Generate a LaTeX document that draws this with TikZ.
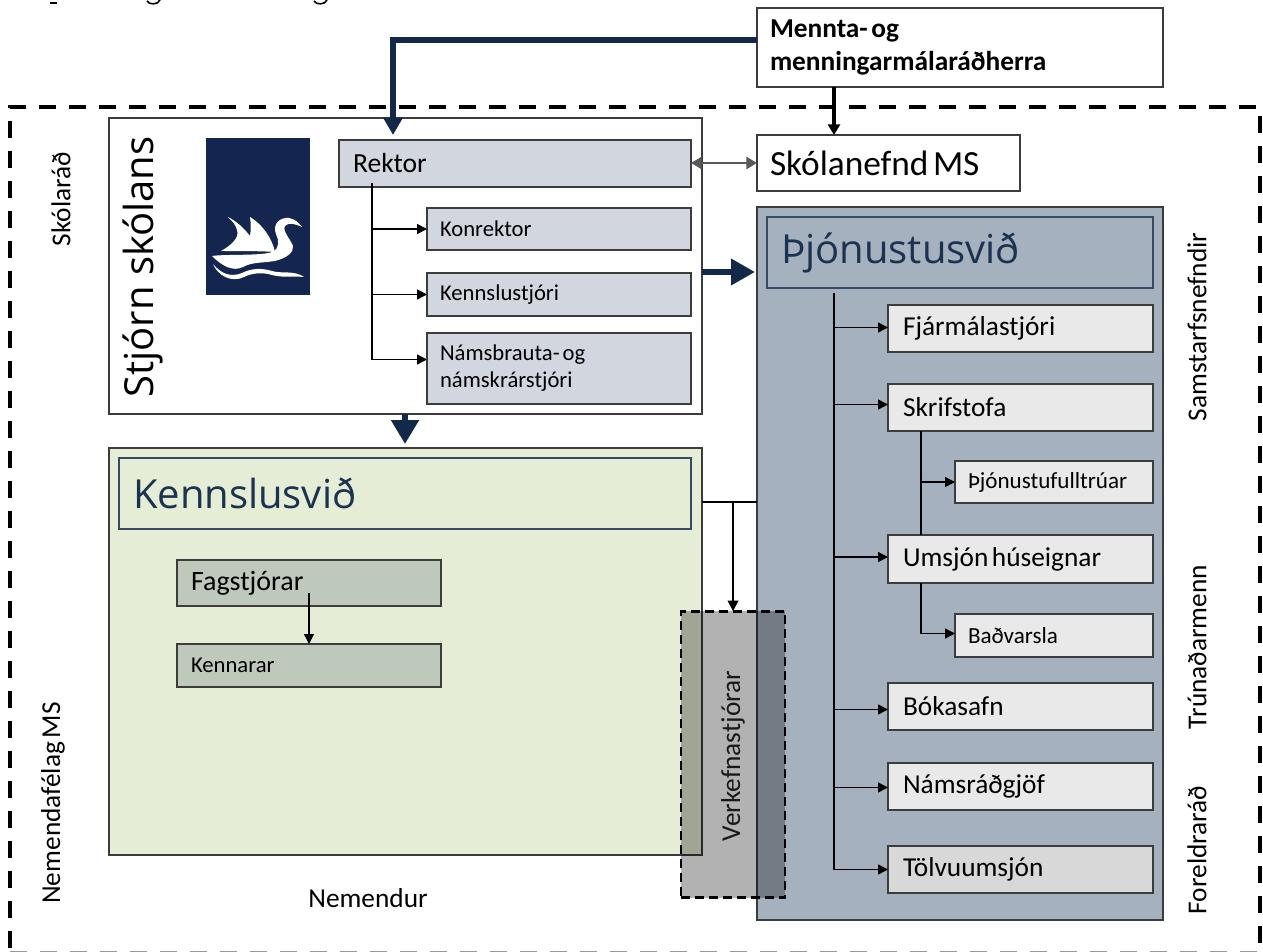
\documentclass[tikz,border=0pt]{standalone}
\usepackage{fontspec}
\setmainfont{Open Sans}
\newfontfamily\calf{Carlito}
\usetikzlibrary{arrows.meta,calc}
\definecolor{navy}{HTML}{12294A}
\definecolor{logoblue}{HTML}{14254F}
\definecolor{edge}{HTML}{3C3C3C}
\definecolor{svcblue}{HTML}{A5B1BE}
\definecolor{headtxt}{HTML}{1C3350}
\definecolor{lightbox}{HTML}{E9E9E9}
\definecolor{darkbox}{HTML}{D8D8D8}
\definecolor{mgmt}{HTML}{D2D7DF}
\definecolor{teach}{HTML}{E6EDD7}
\definecolor{subject}{HTML}{BEC9BC}
\newcommand\bx[8]{%
  \pgfmathsetmacro\cxx{(#2+#4)/2}%
  \pgfmathsetmacro\cyy{(#3+#5)/2}%
  \pgfmathsetmacro\ww{(#4-#2)*0.75}%
  \pgfmathsetmacro\hh{(#5-#3)*0.75}%
  \pgfmathsetmacro\pp{#7*0.75}%
  \pgfmathsetmacro\tw{\ww-2*\pp}%
  \node[boxbase,#6,minimum height=\hh pt,text width=\tw pt,inner xsep=\pp pt] (#1) at (\cxx,\cyy) {#8};}
\newcommand\branch[3]{% trunk, node, dy
  \coordinate (tmpe) at ($(#2.west)+(0,#3)$);
  \draw[thinarrow] (#1 |- tmpe) -- (tmpe);}
\newcommand\nsp{\hspace{0.13em}}
\tikzset{
  boxbase/.style={draw=edge,line width=1.1pt,inner ysep=0pt,outer sep=0pt,align=left,anchor=center},
  plainbox/.style={fill=white},
  svcbox/.style={fill=lightbox,font=\fontsize{20.5}{24}\selectfont\calf},
  svcsmall/.style={fill=lightbox,font=\fontsize{17.3}{20}\selectfont\calf},
  svcdark/.style={fill=darkbox,font=\fontsize{20.5}{24}\selectfont\calf},
  mgmtbox/.style={fill=mgmt,font=\fontsize{17}{20}\selectfont\calf},
  subjbox/.style={fill=subject},
  headbox/.style={draw=navy!85,line width=.8pt,text=headtxt,font=\fontsize{30}{34}\selectfont},
  thinarrow/.style={line width=1.1pt,draw=black,-{Triangle[length=7.5pt,width=7.5pt]}},
  thinline/.style={line width=1.1pt,draw=black},
  sidelabel/.style={rotate=90,inner sep=0pt,font=\fontsize{20.5}{24}\selectfont\calf},
}
\begin{document}
\begin{tikzpicture}[x=0.75pt,y=-0.75pt]
\useasboundingbox (0,0) rectangle (1263,952);
\fill[white] (0,0) rectangle (1263,952);
% cropped line of text at the top edge
\draw[line width=1pt] (50,3) -- (57,3);
\draw[line width=1.2pt] (147,1) .. controls (149,5) and (158,5) .. (160,0);
\draw[line width=1.2pt] (314,1) .. controls (316,5) and (325,5) .. (327,0);
% outer dashed frame
\node[draw=black,line width=3.4pt,dash pattern=on 13pt off 9.5pt,minimum width=937.5pt,minimum height=634.5pt,outer sep=0pt,inner sep=0pt] (frame) at (635,530) {};
\fill[white,opacity=.6] (0,950) rectangle (1263,952);
% main blocks
\bx{mrh}{757}{8}{1163}{87}{plainbox,font=\fontsize{20.5}{24.7}\selectfont\calf\bfseries}{13}{\raisebox{-1pt}{Mennta-\nsp og}\\\raisebox{-1.5pt}{menningarmálaráðherra}}
\bx{nefnd}{757}{135}{1020}{191}{plainbox,font=\fontsize{26.5}{30}\selectfont\calf}{13}{Skólanefnd\nsp MS}
\bx{svc}{757}{207}{1163}{920}{fill=svcblue}{10}{}
\bx{svchead}{767}{217}{1153}{288}{headbox}{14}{\raisebox{-3pt}{Þjónustusvið}}
\bx{stj}{109}{118}{702}{414}{plainbox}{10}{}
\bx{rektor}{339}{140}{691}{187}{mgmtbox,font=\fontsize{20.7}{24}\selectfont\calf}{14}{Rektor}
\bx{kon}{427}{208}{691}{250}{mgmtbox}{13}{Konrektor}
\bx{kst}{427}{273}{691}{316}{mgmtbox}{13}{Kennslustjóri}
\bx{nam}{427}{333}{691}{404}{mgmtbox,font=\fontsize{17}{20.2}\selectfont\calf}{13}{\raisebox{-1pt}{Námsbrauta-\nsp og}\\\raisebox{-1pt}{námskrárstjóri}}
\bx{ken}{109}{448}{702}{855}{fill=teach}{10}{}
\bx{kenhead}{119}{458}{691}{529}{fill=teach,headbox}{14}{Kennslusvið}
\bx{fag}{177}{560}{441}{606}{subjbox,font=\fontsize{21}{24}\selectfont\calf}{14}{Fagstjórar}
\bx{kenn}{177}{644}{441}{687}{subjbox,font=\fontsize{17}{20}\selectfont\calf}{14}{Kennarar}
\bx{fjar}{888}{305}{1153}{352}{svcbox}{15}{Fjármálastjóri}
\bx{skr}{888}{384}{1153}{431}{svcbox}{15}{Skrifstofa}
\bx{ful}{955}{461}{1153}{503}{svcsmall}{13}{Þjónustufulltrúar}
\bx{ums}{888}{535}{1153}{583}{svcbox}{15}{Umsjón\nsp húseignar}
\bx{bad}{955}{614}{1153}{657}{svcsmall}{13}{Baðvarsla}
\bx{bok}{888}{683}{1153}{730}{svcbox}{15}{Bókasafn}
\bx{rad}{888}{763}{1153}{810}{svcbox}{15}{Námsráðgjöf}
\bx{tol}{888}{846}{1153}{893}{svcdark}{15}{Tölvuumsjón}
% logo
\node[fill=logoblue,draw=none,minimum width=78pt,minimum height=117.75pt,inner sep=0pt,outer sep=0pt] (logo) at (258,216.5) {};
\fill[white] (228,217) .. controls (236,221) and (244,228) .. (250,236) .. controls (251,230) and (251,223) .. (250,217) .. controls (262,224) and (272,238) .. (275,252) .. controls (262,251) and (240,251) .. (221,251) .. controls (230,246) and (240,238) .. (237,230) .. controls (236,225) and (232,221) .. (228,217) -- cycle;
\fill[white] (212,256) .. controls (225,254) and (262,256) .. (272,252) .. controls (280,249) and (279,240) .. (276,234) .. controls (272,224) and (280,217) .. (289,218) .. controls (295,219) and (299,223) .. (302,227) .. controls (296,224) and (288,222) .. (285,226) .. controls (282,231) and (291,240) .. (293,246) .. controls (294,252) and (287,258) .. (275,261) .. controls (262,263) and (252,262) .. (243,267) .. controls (233,272) and (222,266) .. (212,256) -- cycle;
\fill[white] (213,264) .. controls (222,275) and (232,277) .. (242,273) .. controls (252,268) and (262,268) .. (272,271) .. controls (282,274) and (294,270) .. (304,277) .. controls (294,276) and (284,278) .. (272,275) .. controls (262,272) and (252,273) .. (244,277) .. controls (232,283) and (218,276) .. (213,264) -- cycle;
% rotated and free labels
\node[rotate=90,inner sep=0pt,font=\fontsize{30}{34}\selectfont] (stjt) at (143,267) {Stjórn skólans};
\node[sidelabel] (skl) at (61,199) {Skólaráð};
\node[sidelabel] (nem) at (53,803) {Nemendafélag\nsp MS};
\node[inner sep=0pt,font=\fontsize{20.5}{24}\selectfont\calf] (nmd) at (368,898) {Nemendur};
\node[sidelabel] (sam) at (1197,327) {Samstarfsnefndir};
\node[sidelabel] (tru) at (1197,647) {Trúnaðarmenn};
\node[sidelabel] (for) at (1197,850) {Foreldraráð};
% project managers overlay
\node[fill=black,fill opacity=0.3,draw=black,draw opacity=1,line width=2.1pt,dash pattern=on 6.8pt off 3.7pt,minimum width=78pt,minimum height=215pt,inner sep=0pt,outer sep=0pt] (verk) at (733,754.5) {};
\node[sidelabel,text=black!90] (verkt) at (733,756) {Verkefnastjórar};
% connectors
\coordinate (mrhl) at ($(mrh.west)+(0,-7.5)$);
\coordinate (rekt) at ($(rektor.north west)+(54,-5)$);
\draw[navy,line width=4pt,-{Triangle[length=13pt,width=14pt]}] (mrhl) -| (rekt);
\coordinate (nefa) at (mrh.south -| 834,0);
\coordinate (nefb) at (nefnd.north -| 834,0);
\draw[black,line width=2.6pt,-{Triangle[length=8pt,width=9pt]}] (nefa) -- (nefb);
\draw[black!65,line width=1.9pt,{Triangle[length=8pt,width=9pt]}-{Triangle[length=8pt,width=9pt]}] (nefnd.west -| rektor.east) -- (nefnd.west);
\coordinate (stjr) at ($(stj.east)+(0,6)$);
\coordinate (svcl) at ($(svc.west |- stjr)+(-2,0)$);
\draw[navy,line width=5.2pt,-{Triangle[length=18pt,width=19pt]}] (stjr) -- (svcl);
\coordinate (stjb) at (stj.south -| 405,0);
\coordinate (kent) at ($(ken.north -| 405,0)+(0,-4)$);
\draw[navy,line width=5.2pt,-{Triangle[length=18pt,width=20pt]}] (stjb) -- (kent);
% Rektor tree
\coordinate (rtk) at ($(rektor.south -| 372,0)+(0,-4)$);
\coordinate (rte) at ($(nam.west -| 372,0)+(0,-9)$);
\draw[thinline] (rtk) -- (rte);
\branch{rtk}{kon}{0}
\branch{rtk}{kst}{0}
\branch{rtk}{nam}{-9}
% teachers
\coordinate (fags) at ($(fag.south)+(0,-13)$);
\draw[thinarrow] (fags -| kenn.north) -- (kenn.north);
% link teaching -> service
\coordinate (lnk) at ($(ken.east |- kenhead.south)+(0,-27)$);
\draw[black,line width=2pt] (lnk) -- (lnk -| svc.west);
\draw[black,line width=1.5pt,-{Triangle[length=8pt,width=8pt]}] (lnk -| verk.north) -- (verk.north);
% service tree
\coordinate (stk) at (svchead.south -| 834,0);
\coordinate (ste) at (tol.west -| 834,0);
\draw[thinline] ($(stk)+(0,5)$) -- (ste);
\branch{stk}{fjar}{-1}
\branch{stk}{skr}{-3}
\branch{stk}{ums}{-2}
\branch{stk}{bok}{3}
\branch{stk}{rad}{1}
\branch{stk}{tol}{0}
\coordinate (sa) at (skr.south -| 921,0);
\coordinate (sb) at (ums.north -| 921,0);
\draw[thinline] (sa) -- (sb);
\branch{sa}{ful}{0}
\coordinate (sc) at (ums.south -| 921,0);
\coordinate (sd) at ($(bad.west)+(0,-2)$);
\draw[thinarrow] (sc) |- (sd);
\end{tikzpicture}
\end{document}
